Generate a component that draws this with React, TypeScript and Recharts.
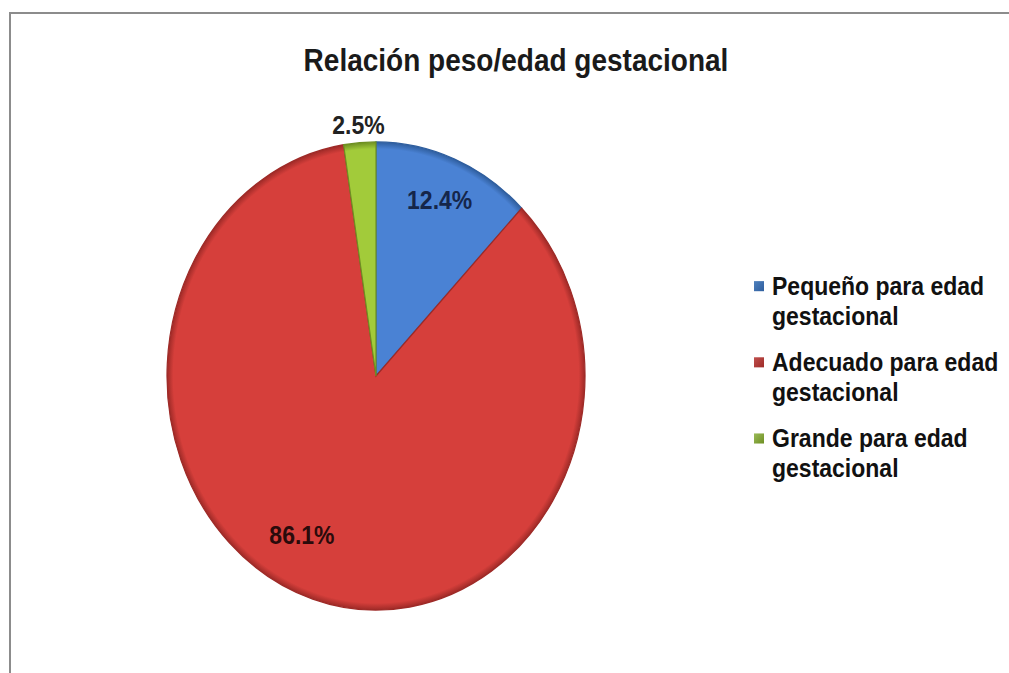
import React from "react";
import { PieChart, Pie, Cell, Legend } from "recharts";

const categories = [
  "Pequeño para edad gestacional",
  "Adecuado para edad gestacional",
  "Grande para edad gestacional",
];
const values = [12.4, 86.1, 2.5];
const valueLabels = ["12.4%", "86.1%", "2.5%"];

const sliceColors = ["#4A82D4", "#D63F3B", "#A2CB3A"];
const sliceEdge = ["#2F5E9E", "#9E2A27", "#6E8F22"];
const legendColors = ["#4F81BD", "#C0504D", "#9BBB59"];
const labelColors = ["#15264A", "#2A0B0B", "#222222"];

const data = categories.map((name, i) => ({ name, value: values[i], label: valueLabels[i] }));

// label placement (radius fraction, angle offset in degrees)
const labelPlace = [
  { r: 0.81, a: 0 },
  { r: 0.766, a: -9.9 },
  { r: 1.075, a: 0 },
];

const SY = 1.12;
const W = 1009;
const H = 601;
const PCX = 376;
const PCY = 335.7;
const PR = 209;
const FONT = "'Liberation Sans', Arial, sans-serif";

const RAD = Math.PI / 180;

const renderLabel = (props: any) => {
  const { cx, cy, midAngle, outerRadius, index } = props;
  const p = labelPlace[index];
  const ang = (midAngle + p.a) * RAD;
  const rr = outerRadius * p.r;
  const x = cx + rr * Math.cos(ang);
  const y = cy - rr * Math.sin(ang);
  return (
    <text
      x={x}
      y={y}
      textAnchor="middle"
      dominantBaseline="central"
      fontFamily={FONT}
      fontWeight="bold"
      fontSize={23}
      fill={labelColors[index]}
    >
      {data[index].label}
    </text>
  );
};

const renderLegend = (props: any) => {
  const payload = [...(props.payload || [])].sort(
    (a: any, b: any) => categories.indexOf(a.value) - categories.indexOf(b.value)
  );
  return (
    <div style={{ fontFamily: FONT, fontWeight: "bold", fontSize: 23, color: "#111", textAlign: "left" }}>
      {payload.map((entry: any) => {
        const i = categories.indexOf(entry.value);
        return (
          <div key={entry.value} style={{ position: "relative", paddingLeft: 18, width: 240, lineHeight: "27px", marginBottom: 14 }}>
            <span
              style={{
                position: "absolute",
                left: 0,
                top: 9,
                width: 10,
                height: 9,
                background: `linear-gradient(135deg, ${legendColors[i]}, ${sliceEdge[i]})`,
              }}
            />
            {entry.value}
          </div>
        );
      })}
    </div>
  );
};

export default function App() {
  return (
    <div style={{ position: "absolute", left: 0, top: 0, width: W, height: 673, overflow: "hidden", background: "#fff" }}>
      <div
        style={{
          position: "absolute",
          left: 9,
          top: 12,
          right: -5,
          bottom: -5,
          borderLeft: "2px solid #8c8c8c",
          borderTop: "2px solid #8c8c8c",
        }}
      />
      <div style={{ position: "absolute", left: 0, top: 0, width: W, height: H, transform: `scaleY(${SY})`, transformOrigin: "0 0" }}>
        <div
          style={{
            position: "absolute",
            left: 216,
            width: 600,
            top: 37,
            lineHeight: "33px",
            textAlign: "center",
            fontFamily: FONT,
            fontWeight: "bold",
            fontSize: 28,
            color: "#1a1a1a",
          }}
        >
          Relación peso/edad gestacional
        </div>
        <PieChart width={W} height={H} margin={{ top: 0, right: 0, bottom: 0, left: 0 }}>
          <defs>
            {sliceColors.map((c, i) => (
              <radialGradient key={i} id={`g${i}`} gradientUnits="userSpaceOnUse" cx={PCX} cy={PCY} r={PR}>
                <stop offset="0%" stopColor={c} />
                <stop offset="85%" stopColor={c} />
                <stop offset="97%" stopColor={c} />
                <stop offset="100%" stopColor={sliceEdge[i]} />
              </radialGradient>
            ))}
          </defs>
          <Pie
            data={data}
            dataKey="value"
            nameKey="name"
            cx={PCX}
            cy={PCY}
            outerRadius={PR}
            startAngle={90}
            endAngle={-270}
            isAnimationActive={false}
            label={renderLabel}
            labelLine={false}
          >
            {data.map((d, i) => (
              <Cell key={d.name} fill={`url(#g${i})`} stroke={sliceEdge[i]} strokeWidth={1.2} />
            ))}
          </Pie>
          <Legend
            layout="horizontal"
            verticalAlign="middle"
            align="center"
            content={renderLegend}
            wrapperStyle={{ position: "absolute", left: 754, top: 242, width: 260 }}
          />
        </PieChart>
      </div>
    </div>
  );
}
